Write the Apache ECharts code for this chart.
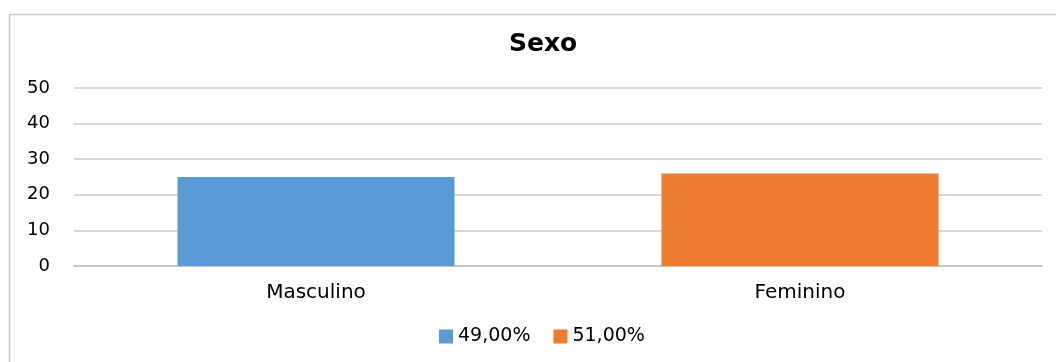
<!DOCTYPE html>
<html><head><meta charset="utf-8">
<script src="https://cdn.jsdelivr.net/npm/echarts@6/dist/echarts.min.js"></script>
<style>html,body{margin:0;padding:0;background:#fff}#c{width:1056px;height:362px}</style>
</head><body><div id="c"></div>
<script>
const categories = ['Masculino', 'Feminino'];
const seriesNames = ['49,00%', '51,00%'];
const masculino = [25, null];
const feminino = [null, 26];
const yTicks = [0, 10, 20, 30, 40, 50];

const chart = echarts.init(document.getElementById('c'));
chart.setOption({
  animation: false,
  title: { text: 'Sexo', left: 504, top: 27,
    textStyle: { fontFamily: 'DejaVu Sans', fontWeight: 'bold', fontSize: 25, color: '#000' } },
  graphic: [{ type: 'rect', shape: { x: 9.5, y: 14.5, width: 1100, height: 400 },
    style: { fill: 'none', stroke: '#c8c8c8', lineWidth: 1.5 }, silent: true }],
  legend: { bottom: 11, left: 434, itemWidth: 14, itemHeight: 14, itemGap: 23,
    icon: 'rect', textStyle: { fontFamily: 'DejaVu Sans', fontSize: 19, color: '#000' },
    data: seriesNames },
  grid: { left: 74, right: 14, top: 88, bottom: 96 },
  xAxis: { type: 'category', data: categories,
    axisLine: { lineStyle: { color: '#bfbfbf', width: 1.5 } }, axisTick: { show: false },
    axisLabel: { fontFamily: 'DejaVu Sans', fontSize: 20, color: '#000', margin: 17 } },
  yAxis: { type: 'value', min: yTicks[0], max: yTicks[yTicks.length - 1], interval: 10,
    axisLine: { show: false }, axisTick: { show: false },
    splitLine: { lineStyle: { color: '#c8c8c8', width: 1.5 } },
    axisLabel: { fontFamily: 'DejaVu Sans', fontSize: 18, color: '#000', margin: 24 } },
  series: [
    { name: seriesNames[0], type: 'bar', stack: 's', data: masculino, barWidth: 277,
      itemStyle: { color: '#5b9bd5' } },
    { name: seriesNames[1], type: 'bar', stack: 's', data: feminino, barWidth: 277,
      itemStyle: { color: '#ed7d31' } }
  ]
});
</script></body></html>
